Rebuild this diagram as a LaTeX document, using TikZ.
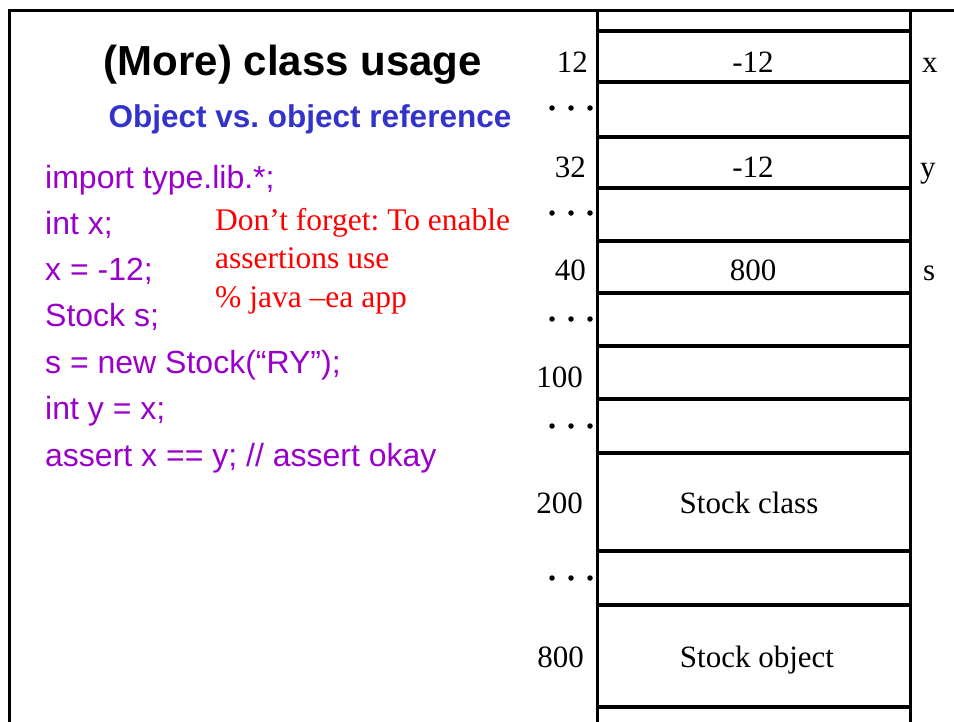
\documentclass[tikz,border=0pt]{standalone}
\usepackage{fontspec}
\setmainfont{Liberation Serif}
\newfontfamily\arialfont{Liberation Sans}
\frenchspacing
\definecolor{codepurple}{HTML}{9900CC}
\definecolor{subblue}{HTML}{3333CC}
\definecolor{notered}{HTML}{FF0000}
\tikzset{
  cell/.style={draw, line width=3.5pt, minimum width=313pt, inner sep=0pt, outer sep=0pt},
  memtxt/.style={font=\fontsize{31}{37}\selectfont, inner sep=0pt, anchor=base},
  addr/.style={memtxt, anchor=base east},
  varname/.style={memtxt, anchor=base west},
  code/.style={font=\arialfont\fontsize{32}{38}\selectfont, text=codepurple, inner sep=0pt, anchor=base west},
  note/.style={font=\fontsize{31.5}{38.5}\selectfont, text=notered, inner sep=0pt, anchor=base west, align=left},
  dotmark/.style={circle, fill=black, inner sep=0pt, minimum size=5.5pt},
}
\newcommand{\dotrow}[2]{%
  \node[dotmark] (#1a) at (552,#2) {};
  \node[dotmark] (#1b) at (571,#2) {};
  \node[dotmark] (#1c) at (590,#2) {};
}
\begin{document}
\begin{tikzpicture}[x=1pt,y=-1pt]
\useasboundingbox (0,0) rectangle (954,721);
% outer frame
\coordinate (fbl) at (9,725);
\coordinate (ftl) at (9,10);
\coordinate (ftr) at (958,10);
\draw[line width=3pt] (fbl) -- (ftl) -- (ftr);
% titles
\node[font=\arialfont\bfseries\fontsize{42}{48}\selectfont, inner sep=0pt, anchor=base] (title) at (293,75) {(More) class usage};
\node[font=\arialfont\bfseries\fontsize{31.5}{38}\selectfont, text=subblue, inner sep=0pt, anchor=base] (sub) at (310,127) {Object vs. object reference};
% code
\node[code] (l1) at (45,188) {import type.lib.*;};
\node[code] (l2) at (45,234) {int x;};
\node[code] (l3) at (45,280) {x = -12;};
\node[code] (l4) at (45,326) {Stock s;};
\node[code] (l5) at (45,373) {s = new Stock(“RY”);};
\node[code] (l6) at (45,419) {int y = x;};
\node[code] (l7) at (45,466) {assert x == y; // assert okay};
% note
\node[note] (n1) at (215,230) {Don’t forget: To enable};
\node[note] (n2) at (215,268) {assertions use};
\node[note] (n3) at (215,307) {\% java –ea app};
% memory column
\coordinate (ctl) at (597.5,10);
\coordinate (ctr) at (910.5,10);
\coordinate (cbl) at (597.5,725);
\coordinate (cbr) at (910.5,725);
\draw[line width=3.5pt] (ctl) -- (cbl);
\draw[line width=3.5pt] (ctr) -- (cbr);
\node[cell, minimum height=51pt] (r1) at (754,56.5) {};
\node[cell, minimum height=55pt] (r2) at (754,109.5) {};
\node[cell, minimum height=51pt] (r3) at (754,162.5) {};
\node[cell, minimum height=53pt] (r4) at (754,214.5) {};
\node[cell, minimum height=52pt] (r5) at (754,267) {};
\node[cell, minimum height=53pt] (r6) at (754,319.5) {};
\node[cell, minimum height=53pt] (r7) at (754,372.5) {};
\node[cell, minimum height=54pt] (r8) at (754,426) {};
\node[cell, minimum height=98pt] (r9) at (754,502) {};
\node[cell, minimum height=54pt] (r10) at (754,578) {};
\node[cell, minimum height=102pt] (r11) at (754,656) {};
% contents
\node[memtxt] (v1) at (753,72) {-12};
\node[memtxt] (v3) at (753,177) {-12};
\node[memtxt] (v5) at (753,280) {800};
\node[memtxt] (v9) at (749,513) {Stock class};
\node[memtxt] (v11) at (757,667) {Stock object};
% addresses
\node[addr] (a1) at (588,72) {12};
\node[addr] (a3) at (586,177) {32};
\node[addr] (a5) at (586,280) {40};
\node[addr] (a7) at (583,387) {100};
\node[addr] (a9) at (583,513) {200};
\node[addr] (a11) at (584,667) {800};
% variable names
\node[varname] (x) at (922,72) {x};
\node[varname] (y) at (920,177) {y};
\node[varname] (s) at (923,280) {s};
% ellipsis rows
\dotrow{d2}{108}
\dotrow{d4}{213}
\dotrow{d6}{319}
\dotrow{d8}{426}
\dotrow{d10}{578}
\end{tikzpicture}
\end{document}
